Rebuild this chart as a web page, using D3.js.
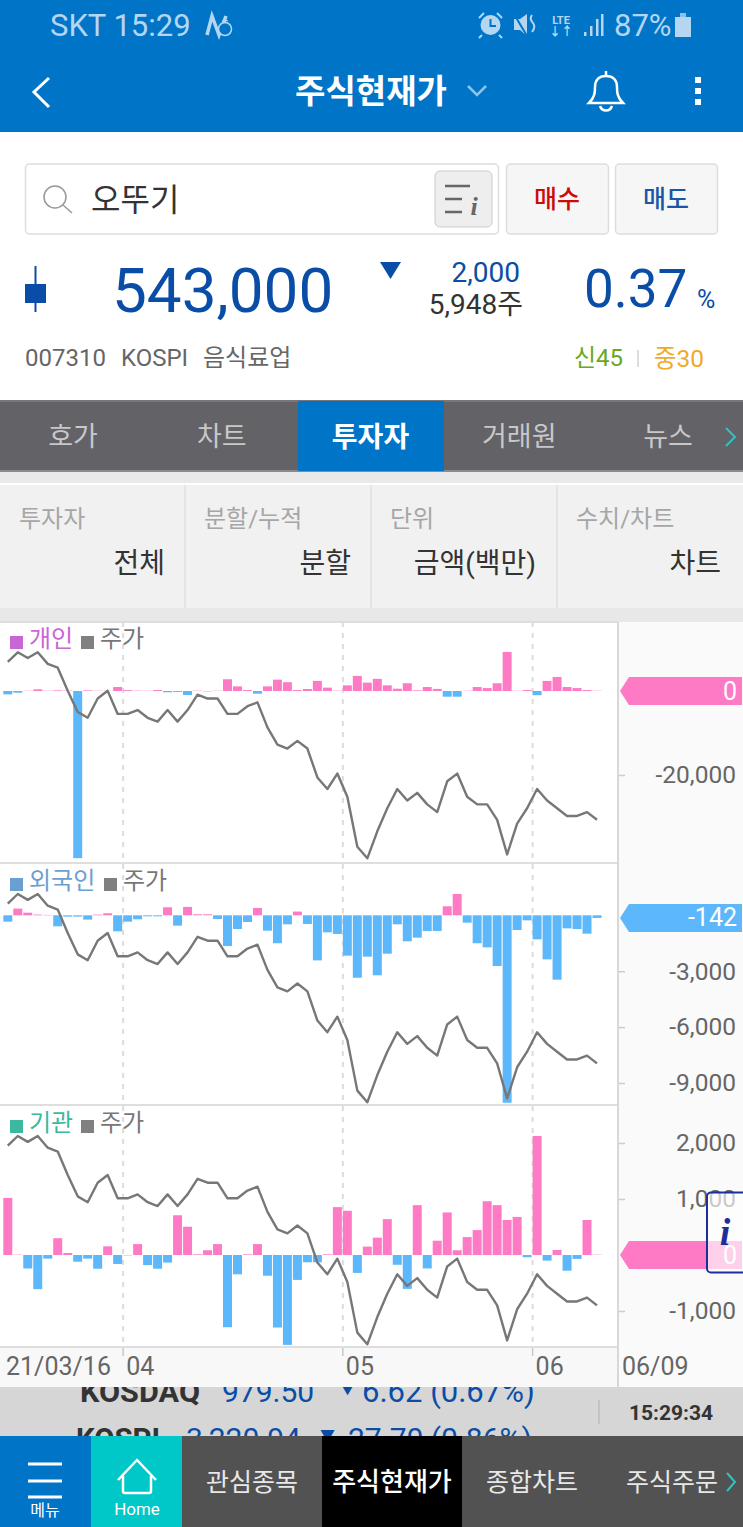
<!DOCTYPE html>
<html>
<head>
<meta charset="utf-8">
<script src="https://cdn.jsdelivr.net/npm/d3@7"></script>
<style>
  body { margin: 0; background: #fff; overflow: hidden; }
  text { font-family: Roboto, "Noto Sans CJK KR", sans-serif; }
</style>
</head>
<body>
<script>
// trading days shown on the chart
const dates = [
  "03/16","03/17","03/18","03/19","03/22","03/23","03/24","03/25","03/26","03/29","03/30","03/31",
  "04/01","04/02","04/05","04/06","04/07","04/08","04/09","04/12","04/13","04/14","04/15","04/16","04/19","04/20","04/21","04/22","04/23","04/26","04/27","04/28","04/29","04/30",
  "05/03","05/04","05/06","05/07","05/10","05/11","05/12","05/13","05/14","05/17","05/18","05/20","05/21","05/24","05/25","05/26","05/27","05/28","05/31",
  "06/01","06/02","06/03","06/04","06/07","06/08","06/09"];

// closing price
const price = [584000,586500,585000,586500,583500,582500,576500,571000,569500,574500,576500,570500,
  570500,571500,569500,568500,571500,568500,571500,575500,574500,574500,570500,570500,572500,573500,567000,562500,561500,563500,561500,554000,551000,555000,
  549000,536000,533000,540000,546000,551000,548000,550000,547000,545000,553000,555000,549000,547000,547000,543000,534000,542000,546000,
  551000,548000,546000,544000,544000,545000,543000];

// net buying, million won
const individual = [-800,-400,50,400,60,150,80,-39800,150,60,30,950,200,80,60,220,-300,-220,-950,80,-80,60,2800,1100,220,-640,1100,2700,2100,220,480,2400,800,80,
  1350,3600,2000,2900,1350,550,1850,150,950,500,-1350,-1350,60,950,700,1850,9300,60,220,-1000,2400,3350,950,700,220,60];
const foreign = [-340,360,140,40,20,-590,-70,-70,-230,40,110,-860,-340,-215,-55,-55,430,-555,450,55,55,-200,-1650,-735,-360,395,-825,-1500,-485,200,-465,-2420,-915,-1000,
  -2165,-3350,-2220,-3220,-2060,-485,-1395,-1200,-840,-840,485,1145,-395,-1500,-1720,-2720,-10060,-790,-270,-1290,-2365,-3455,-700,-735,-985,-142];
const institution = [1020,6,-240,-610,-65,300,35,-120,-65,-245,155,-160,-6,195,-180,-245,-135,710,505,12,85,195,-1290,-345,12,195,-370,-1295,-1605,-445,-130,-130,12,855,
  790,-320,150,310,640,-175,-605,890,-240,255,760,85,320,445,960,890,625,680,-40,2125,-100,90,-280,-70,625,6];

const monthStarts = ["04/01","05/03","06/01"];
const monthLabels = ["04","05","06"];

const tabs = ["호가","차트","투자자","거래원","뉴스"];
const filterLabels = ["투자자","분할/누적","단위","수치/차트"];
const filterValues = ["전체","분할","금액(백만)","차트"];
const navItems = ["관심종목","주식현재가","종합차트","주식주문"];

const width = 743;
const height = 1527;
const blue = "#0075c8";
const quoteBlue = "#0a4da6";
const statusText = "#b5d6f0";
const barUp = "#ff7ac4";
const barDown = "#5cb8fa";

const svg = d3.select("body").append("svg")
  .attr("width", width)
  .attr("height", height)
  .style("display", "block");

function rect(x, y, w, h, fill, parent = svg) {
  return parent.append("rect").attr("x", x).attr("y", y).attr("width", w).attr("height", h).attr("fill", fill);
}

function label(x, y, str, size, fill, anchor = "start", weight = 400, parent = svg) {
  return parent.append("text")
    .attr("x", x).attr("y", y)
    .attr("font-size", size)
    .attr("font-weight", weight)
    .attr("fill", fill)
    .attr("text-anchor", anchor)
    .attr("dominant-baseline", "central")
    .text(str);
}

function stroke(d, color, w = 2) {
  return svg.append("path").attr("d", d).attr("fill", "none").attr("stroke", color).attr("stroke-width", w);
}

// ticker strip goes first, the chart and nav cover its edges
rect(0, 1380, width, 60, "#d6d6d6");
label(80, 1391, "KOSDAQ", 30, "#333", "start", 700).attr("textLength", 120).attr("lengthAdjust", "spacingAndGlyphs");
label(222, 1391, "979.50", 30, quoteBlue);
label(340, 1389, "▼", 15, quoteBlue);
label(362, 1391, "6.62 (0.67%)", 31, quoteBlue);
label(76, 1438, "KOSPI", 30, "#333", "start", 700).attr("textLength", 84).attr("lengthAdjust", "spacingAndGlyphs");
label(186, 1438, "3,220.94", 30, quoteBlue);
label(320, 1436, "▼", 15, quoteBlue);
label(348, 1438, "27.70 (0.86%)", 30, quoteBlue);
rect(598, 1400, 2, 24, "#c4c4c4");
label(671, 1413, "15:29:34", 21, "#333", "middle", 700);

// status bar + title bar
rect(0, 0, width, 132, blue);
label(50, 25, "SKT 15:29", 31, statusText);
stroke("M207 35L212 16L219 35L226 16", statusText, 3.5);
svg.append("circle").attr("cx", 225).attr("cy", 29).attr("r", 6.5).attr("fill", blue).attr("stroke", statusText).attr("stroke-width", 1.5);
label(225, 20, "+", 11, statusText, "middle", 700);
stroke("M479 18L484 13M502 18L497 13M482 35L479 38M499 35L502 38", statusText, 2);
svg.append("circle").attr("cx", 490.5).attr("cy", 25).attr("r", 10).attr("fill", statusText);
stroke("M490.5 19V26H496", blue, 2);
svg.append("path").attr("d", "M514 19H520L527 14V36L520 30H514Z").attr("fill", statusText);
stroke("M514 14L527 36", blue, 2);
stroke("M532 15Q529 19 533 23Q536 27 532 32", statusText, 2);
label(561, 20, "LTE", 11, statusText, "middle", 700);
label(561, 32, "↓↑", 12, statusText, "middle", 700);
svg.selectAll(".sig").data([[584, 4], [590, 10], [596, 17], [601, 22]]).join("rect")
  .attr("x", d => d[0]).attr("y", d => 36 - d[1]).attr("width", 2.5).attr("height", d => d[1]).attr("fill", statusText);
label(614, 25, "87%", 31, statusText);
rect(675, 17, 16, 20, statusText);
rect(680, 13, 6, 4, "#8fc0e4");

stroke("M49 78L34 92L49 107", "#fff", 3);
label(371, 91, "주식현재가", 33, "#fff", "middle", 700);
stroke("M468 86L477 95L486 86", "#8cc4ea", 2.5);
stroke("M589 103C595 97 595 92 595 87C595 80 599 76 606 76C613 76 617 80 617 87C617 92 617 97 623 103Z", "#fff", 2.5);
stroke("M606 71V76M600 106C602 112 610 112 612 106", "#fff", 2.5);
svg.selectAll(".dot").data([80, 91, 102]).join("rect")
  .attr("x", 695).attr("y", d => d - 3).attr("width", 6).attr("height", 6).attr("fill", "#fff");

// search row
rect(25.5, 164, 473, 70, "#fff").attr("stroke", "#ddd").attr("stroke-width", 1.5).attr("rx", 4);
svg.append("circle").attr("cx", 55).attr("cy", 197).attr("r", 11).attr("fill", "none").attr("stroke", "#999").attr("stroke-width", 1.5);
stroke("M63 205L72 213", "#999", 1.5);
label(91, 200, "오뚜기", 32, "#333");
rect(435, 171, 57, 56, "#eee").attr("stroke", "#ccc").attr("rx", 5);
stroke("M445 186H470M445 199H462M445 212H462", "#666", 2.5);
label(474, 206, "i", 26, "#666", "middle", 700).attr("font-style", "italic").style("font-family", "'Liberation Serif', serif");
rect(506.5, 164, 102, 70, "#f6f6f6").attr("stroke", "#ddd").attr("stroke-width", 1.5).attr("rx", 4);
label(557, 199, "매수", 25, "#cc0a0a", "middle", 500);
rect(615.5, 164, 102, 70, "#f6f6f6").attr("stroke", "#ddd").attr("stroke-width", 1.5).attr("rx", 4);
label(666, 199, "매도", 25, "#1a56a8", "middle", 500);

// quote row
rect(34.5, 266, 2, 46, quoteBlue);
rect(25, 284, 21, 19, quoteBlue);
label(112, 290, "543,000", 62, quoteBlue);
svg.append("path").attr("d", "M380 262H401L390.5 279Z").attr("fill", quoteBlue);
label(520, 272, "2,000", 28, quoteBlue, "end");
label(523, 304, "5,948주", 28, "#333", "end");
label(584, 289, "0.37", 53, quoteBlue);
label(697, 299, "%", 25, quoteBlue);
label(25, 358, "007310", 24, "#666");
label(121, 358, "KOSPI", 24, "#666");
label(203, 358, "음식료업", 24, "#666");
label(574, 358, "신45", 24, "#6aa820");
rect(637, 350, 2, 17, "#ddd");
label(654, 358, "중30", 24.5, "#f0aa28");

// tab bar
rect(0, 400, width, 72, "#626267");
rect(0, 400, width, 2, "#77777b");
rect(0, 470, width, 2, "#8a8a8a");
rect(0, 472, width, 11, "#e9e9e9");
rect(298, 401, 146, 70, blue);
const tabX = d3.scalePoint().domain(tabs).range([73, 668]);
tabs.forEach(t => {
  const active = t === "투자자";
  label(tabX(t), 437, t, active ? 28 : 27, active ? "#fff" : "#c8c8ca", "middle", active ? 700 : 400);
});
stroke("M726 428L735 437L726 446", "#2ec4c4", 2);

// filter row
rect(0, 485, width, 123, "#f1f1f1");
rect(0, 608, width, 14, "#e8e8e8");
const filterX = d3.scaleOrdinal().domain(filterLabels).range([0, 185, 371, 557]);
const filterRight = [165, 351, 536, 721];
filterLabels.forEach((t, i) => {
  const x = filterX(t);
  if (i > 0) rect(x - 1, 485, 2, 123, "#e4e4e4");
  label(x + 19, 519, t, 24, "#a6a6a6");
  label(filterRight[i], 563, filterValues[i], 28, "#333", "end");
});

// chart frame
const plotLeft = 0;
const plotRight = 618;
const plotTop = 622;
const plotBottom = 1347;
rect(plotLeft, plotTop, plotRight, plotBottom - plotTop, "#fff");
rect(plotRight, plotTop, width - plotRight, 765, "#fafafa");
rect(0, plotBottom, plotRight, 40, "#f8f8f8");

const x = d3.scaleBand().domain(dates).range([3.3, 601.5]).paddingInner(0.1);

// month separators
svg.append("g").selectAll("line").data(monthStarts).join("line")
  .attr("x1", d => x(d)).attr("x2", d => x(d))
  .attr("y1", plotTop).attr("y2", plotBottom)
  .attr("stroke", "#dcdcdc").attr("stroke-width", 2).attr("stroke-dasharray", "5 6");
svg.append("g").selectAll("line").data(monthStarts).join("line")
  .attr("x1", d => x(d)).attr("x2", d => x(d))
  .attr("y1", plotBottom).attr("y2", plotBottom + 9)
  .attr("stroke", "#c8c8c8").attr("stroke-width", 1.5);

const fmt = d3.formatLocale({ decimal: ".", thousands: ",", grouping: [3], currency: ["", ""], minus: "-" }).format(",");

const panels = [
  { name: "개인", color: "#c966d6", nameWidth: 71, values: individual, last: 0, ticks: [-20000], tagColor: barUp,
    valueDomain: [0, -20000], valueRange: [691, 775], priceRange: [652.3, 858.3], titleY: 639 },
  { name: "외국인", color: "#6a9fd2", nameWidth: 94, values: foreign, last: -142, ticks: [-3000, -6000, -9000], tagColor: barDown,
    valueDomain: [0, -9000], valueRange: [915.3, 1083], priceRange: [894, 1102.3], titleY: 881 },
  { name: "기관", color: "#3cb8a0", nameWidth: 71, values: institution, last: 0, ticks: [2000, 1000, -1000], tagColor: barUp,
    valueDomain: [2000, -1000], valueRange: [1143, 1311], priceRange: [1136, 1344.3], titleY: 1123 }
];

panels.forEach(p => {
  const y = d3.scaleLinear().domain(p.valueDomain).range(p.valueRange);
  const yPrice = d3.scaleLinear().domain([586500, 533000]).range(p.priceRange);
  const g = svg.append("g");

  g.selectAll("rect").data(p.values).join("rect")
    .attr("x", (d, i) => x(dates[i]))
    .attr("width", x.bandwidth())
    .attr("y", d => Math.min(y(d), y(0)))
    .attr("height", d => Math.abs(y(d) - y(0)))
    .attr("fill", d => d >= 0 ? barUp : barDown);

  const line = d3.line().x((d, i) => x(dates[i]) + x.bandwidth() / 2).y(d => yPrice(d));
  g.append("path").attr("d", line(price))
    .attr("fill", "none").attr("stroke", "#777").attr("stroke-width", 2.4).attr("stroke-linejoin", "round");

  // value axis on the right
  const axis = svg.append("g")
    .attr("transform", `translate(${plotRight + 1},0)`)
    .call(d3.axisRight(y).tickValues(p.ticks).tickSize(6).tickFormat(fmt));
  axis.select(".domain").remove();
  axis.selectAll(".tick line").attr("stroke", "#ccc").attr("stroke-width", 1.5);
  axis.selectAll(".tick text")
    .attr("x", 117).attr("text-anchor", "end")
    .attr("font-size", 24.5).attr("fill", "#666")
    .style("font-family", "Roboto, sans-serif");

  // latest value tag
  const yTag = y(p.last);
  svg.append("path")
    .attr("d", d3.line()([[620, yTag], [629, yTag - 14], [742, yTag - 14], [742, yTag + 14], [629, yTag + 14]]) + "Z")
    .attr("fill", p.tagColor);
  label(737, yTag, fmt(p.last), 25, "#fff", "end");

  // legend
  rect(10, p.titleY - 3, 13, 13, p.color);
  label(29, p.titleY, p.name, 24, p.color);
  rect(10 + p.nameWidth, p.titleY - 3, 13, 13, "#808080");
  label(29 + p.nameWidth, p.titleY, "주가", 24, "#777");
});

// panel borders
[plotTop, 863, 1105, plotBottom].forEach(yy => rect(0, yy - 1, plotRight + 1, 2, "#dedede"));
rect(plotRight - 1, plotTop, 2, 765, "#d8d8d8");

// date labels
label(6, 1366, "21/03/16", 25, "#666");
monthLabels.forEach((m, i) => label(x(monthStarts[i]) + 3, 1366, m, 25, "#666"));
label(622, 1366, "06/09", 25, "#666");

// floating info button over the third panel
rect(707, 1192.5, 40, 80, "rgba(255,255,255,0.65)").attr("stroke", "#1c2f98").attr("stroke-width", 2).attr("rx", 4);
label(725, 1232, "i", 38, "#1c2f98", "middle", 700).attr("font-style", "italic").style("font-family", "'Liberation Serif', serif");

// bottom nav
rect(0, 1436, width, 91, "#525252");
rect(0, 1436, 91, 91, blue);
rect(91, 1436, 91, 91, "#00c8c8");
rect(322, 1436, 140, 91, "#000");
stroke("M28 1464H62M28 1481H62M28 1497H62", "#fff", 3);
label(45, 1510, "메뉴", 16, "#fff", "middle");
stroke("M118 1480L137 1460L156 1480M123 1476V1491Q123 1493 125 1493H149Q151 1493 151 1491V1476", "#fff", 2.5);
label(137, 1509, "Home", 17, "#fff", "middle");
const navX = d3.scalePoint().domain(navItems).range([252, 672]);
navItems.forEach(t => {
  const active = t === "주식현재가";
  label(navX(t), 1482, t, active ? 26 : 25, active ? "#fff" : "#e8e8e8", "middle", active ? 500 : 400);
});
stroke("M727 1473L735 1482L727 1491", "#2ec4c4", 2);
</script>
</body>
</html>
